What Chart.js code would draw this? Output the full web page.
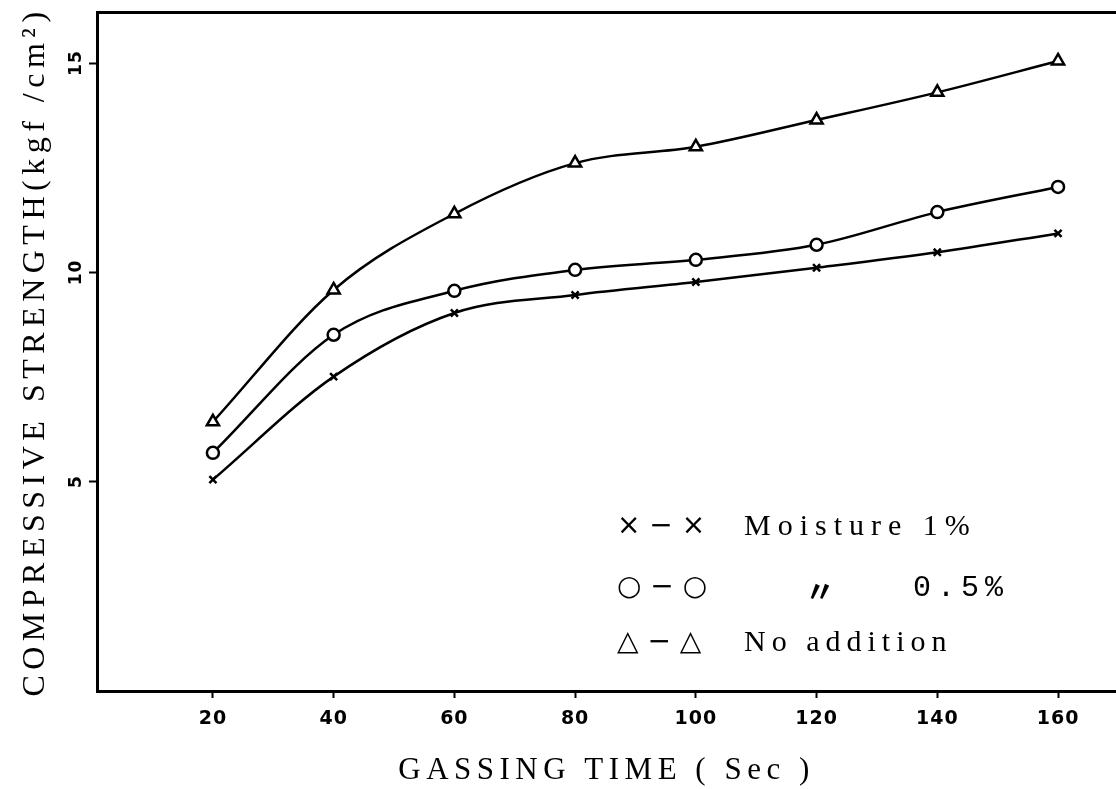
<!DOCTYPE html>
<html>
<head>
<meta charset="utf-8">
<script src="https://cdn.jsdelivr.net/npm/chart.js@4.4.0/dist/chart.umd.min.js"></script>
<style>
  html, body { margin: 0; padding: 0; background: #fff; overflow: hidden; }
  #wrap { width: 1116px; height: 789px; position: relative; }
</style>
</head>
<body>
<div id="wrap"><canvas id="mychart" width="1116" height="789"></canvas></div>
<script>
//DATA---------------------------------------------------------------
const gassingTime = [20, 40, 60, 80, 100, 120, 140, 160];
const moisture1 = [5.05, 7.51, 9.03, 9.46, 9.77, 10.11, 10.48, 10.93];
const moisture05 = [5.69, 8.51, 9.56, 10.06, 10.30, 10.66, 11.44, 12.04];
const noAddition = [6.43, 9.58, 11.40, 12.61, 13.0, 13.64, 14.30, 15.05];
const xTicks = [20, 40, 60, 80, 100, 120, 140, 160];
const yTicks = [5, 10, 15];
const legendRows = [
  { sym: "\u00D7 \u2212 \u00D7", mid: "", text: "Moisture 1%" },
  { sym: "\u25CB \u2212 \u25CB", mid: "\u3003", text: "0.5%" },
  { sym: "\u25B3 \u2212 \u25B3", mid: "", text: "No addition" },
];
//-------------------------------------------------------------------

function toPoints(ys) {
  return gassingTime.map(function (x, i) {
    return { x: x, y: ys[i] };
  });
}

function series(label, ys, style, radius) {
  return {
    label: label,
    data: toPoints(ys),
    borderColor: "#000",
    borderWidth: 2.5,
    pointStyle: style,
    pointRadius: radius,
    pointBorderWidth: 2.5,
    pointBackgroundColor: "#fff",
    pointBorderColor: "#000",
    cubicInterpolationMode: "monotone",
    fill: false,
  };
}

//wide letter spacing for the axis titles, normal for tick labels
const spacing = {
  id: "spacing",
  beforeDraw(chart) {
    chart.ctx.letterSpacing = "5.5px";
  },
  afterDatasetsDraw(chart) {
    chart.ctx.letterSpacing = "1px";
  },
};

//legend drawn inside the plot
const insideLegend = {
  id: "insideLegend",
  afterDraw(chart) {
    const ctx = chart.ctx;
    const a = chart.chartArea;
    const rowsY = [527, 588, 643];
    ctx.save();
    ctx.fillStyle = "#000";
    ctx.textBaseline = "middle";
    ctx.textAlign = "left";
    legendRows.forEach(function (r, i) {
      const y = rowsY[i];
      ctx.font = "28px 'DejaVu Sans', 'Noto Sans CJK JP'";
      ctx.letterSpacing = "0px";
      ctx.fillText(r.sym, a.left + 520, y);
      if (r.mid) {
        ctx.font = "bold 30px 'Noto Sans CJK JP'";
        ctx.fillText(r.mid, a.left + 708, y + 3);
        ctx.font = "30px 'Liberation Mono'";
        ctx.letterSpacing = "6px";
        ctx.fillText(r.text, a.left + 816, y);
      } else {
        ctx.font = "30px 'Liberation Serif'";
        ctx.letterSpacing = i === 0 ? "7px" : "6px";
        ctx.fillText(r.text, a.left + 647, y);
      }
    });
    ctx.restore();
  },
};

const config = {
  type: "line",
  data: {
    datasets: [
      series("Moisture 1%", moisture1, "crossRot", 5),
      series("0.5%", moisture05, "circle", 6),
      series("No addition", noAddition, "triangle", 7),
    ],
  },
  options: {
    responsive: false,
    animation: false,
    layout: { padding: 0, autoPadding: false },
    plugins: {
      legend: { display: false },
      tooltip: { enabled: false },
    },
    scales: {
      x: {
        type: "linear",
        position: "bottom",
        min: 0.8,
        max: 169.6,
        afterBuildTicks: function (scale) {
          scale.ticks = xTicks.map(function (v) { return { value: v }; });
        },
        afterFit: function (scale) { scale.height = 98; },
        border: { display: true, color: "#000", width: 3 },
        grid: { drawOnChartArea: false, drawTicks: true, tickLength: 7, tickWidth: 2, tickColor: "#000" },
        ticks: {
          color: "#000",
          padding: 10,
          maxRotation: 0,
          z: 1,
          font: { family: "'DejaVu Sans'", size: 19, weight: "bold" },
        },
        title: {
          display: true,
          text: "GASSING TIME ( Sec )",
          color: "#000",
          font: { family: "'Liberation Serif'", size: 31 },
          padding: { top: 0, bottom: 0 },
        },
      },
      xTop: {
        type: "linear",
        position: "top",
        min: 0.8,
        max: 169.6,
        afterFit: function (scale) { scale.height = 12; },
        border: { display: true, color: "#000", width: 3 },
        grid: { display: false },
        ticks: { display: false },
      },
      y: {
        type: "linear",
        min: 0,
        max: 16.22,
        afterBuildTicks: function (scale) {
          scale.ticks = yTicks.map(function (v) { return { value: v }; });
        },
        afterFit: function (scale) { scale.width = 97; },
        border: { display: true, color: "#000", width: 3 },
        grid: { drawOnChartArea: false, drawTicks: true, tickLength: 8, tickWidth: 2, tickColor: "#000" },
        ticks: {
          color: "#000",
          padding: 1,
          minRotation: 90,
          maxRotation: 90,
          crossAlign: "center",
          z: 1,
          font: { family: "'DejaVu Sans'", size: 17, weight: "bold" },
        },
        title: {
          display: true,
          text: "COMPRESSIVE STRENGTH(kgf /cm\u00B2)",
          color: "#000",
          font: { family: "'Liberation Serif'", size: 32 },
          padding: { top: 16, bottom: 0 },
        },
      },
    },
  },
  plugins: [spacing, insideLegend],
};

const myChart = new Chart(document.getElementById("mychart"), config);
</script>
</body>
</html>
